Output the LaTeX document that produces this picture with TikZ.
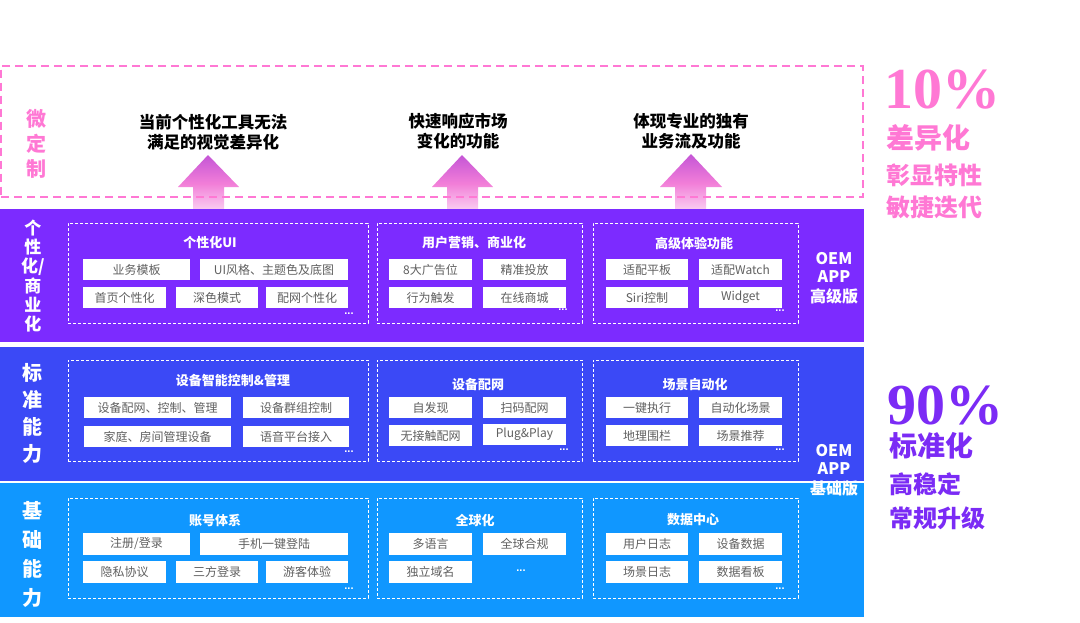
\documentclass[tikz,border=0pt]{standalone}
\usepackage{fontspec}
\setmainfont{Noto Sans CJK SC}
\newfontfamily\cjk{Noto Sans CJK SC}
\newfontfamily\serifnum{Liberation Serif}
\newfontfamily\latinsans{Liberation Sans}
\definecolor{pinkc}{HTML}{FF78D4}
\definecolor{purpband}{HTML}{7C2BFF}
\definecolor{blueband}{HTML}{3B49F6}
\definecolor{skyband}{HTML}{1097FF}
\definecolor{purptxt}{HTML}{7B2BF5}
\definecolor{itemtxt}{HTML}{606060}
\definecolor{arrtop}{HTML}{C455D6}
\definecolor{arrmid}{HTML}{F27ED8}
\definecolor{arrbot}{HTML}{FAD4F3}
\newcommand\fs[1]{\fontsize{#1}{#1}\selectfont}
\newcommand\mybox[6]{\node[itembox, minimum width={(#4-#2)*1pt}, minimum height={(#5-#3)*1pt}] (#1) at ({(#2+#4)/2},{(#3+#5)/2}) {#6};}
\newcommand\mygrp[5]{\node[grpbox, minimum width={(#4-#2)*1pt}, minimum height={(#5-#3)*1pt}] (#1) at ({(#2+#4)/2},{(#3+#5)/2}) {};}
\begin{document}
\begin{tikzpicture}[x=1pt,y=-1pt,
  band/.style={draw=none, inner sep=0pt, outer sep=0pt},
  grpbox/.style={draw=white, line width=0.8pt, dash pattern=on 3pt off 2pt, inner sep=0pt},
  itembox/.style={fill=white, draw=none, inner sep=0pt, text=itemtxt, font=\cjk\fs{12}},
  ttl/.style={text=white, font=\cjk\bfseries\fs{13}, inner sep=0pt},
  sidelbl/.style={text=white, font=\cjk\bfseries\fs{17}, align=center, inner sep=0pt},
  oemlbl/.style={text=white, font=\cjk\bfseries\fs{16}, align=center, inner sep=0pt},
  dotsl/.style={text=white, font=\latinsans\bfseries\fs{11}, inner sep=0pt, text height=0pt, text depth=0pt},
  toptxt/.style={text=black, font=\cjk\bfseries\fs{16.5}, align=center, inner sep=0pt},
  bigpct/.style={font=\serifnum\bfseries\fs{58}, inner sep=0pt, anchor=west, text height=40pt, text depth=0pt},
  rtxt/.style={font=\cjk\bfseries, inner sep=0pt, anchor=west},
  uparrow/.style={top color=arrtop, bottom color=arrbot, middle color=arrmid, draw=none}
]
\useasboundingbox (0,0) rectangle (1080,622);

% top arrows
\shade[uparrow] (208,155) -- (239,187) -- (224,187) -- (224,212) -- (193,212) -- (193,187) -- (178,187) -- cycle;
\shade[uparrow] (462,155) -- (493,187) -- (478,187) -- (478,212) -- (447,212) -- (447,187) -- (432,187) -- cycle;
\shade[uparrow] (691,154) -- (722,187) -- (706,187) -- (706,212) -- (675,212) -- (675,187) -- (660,187) -- cycle;

% pink dashed box
\node[draw=pinkc, line width=2pt, dash pattern=on 8pt off 5pt, minimum width=862pt, minimum height=131pt, inner sep=0pt] (micro) at (432,131) {};
\node[text=pinkc, font=\cjk\bfseries\fs{20}, align=center, inner sep=0pt] (microlbl) at (36,144) {微\\[5pt]定\\[5pt]制};

\node[toptxt] (t1) at (213,132) {当前个性化工具无法\\[3pt]满足的视觉差异化};
\node[toptxt] (t2) at (458,131) {快速响应市场\\[3pt]变化的功能};
\node[toptxt] (t3) at (691,131) {体现专业的独有\\[3pt]业务流及功能};

% bands
\node[band, fill=purpband, minimum width=864pt, minimum height=133pt] (b1) at (432,275.5) {};
\node[band, fill=blueband, minimum width=864pt, minimum height=134pt] (b2) at (432,414) {};
\node[band, fill=skyband, minimum width=864pt, minimum height=134pt] (b3) at (432,550) {};

% side labels
\node[sidelbl] (l1) at (33,276) {个\\[2pt]性\\[2pt]化/\\[2pt]商\\[2pt]业\\[2pt]化};
\node[sidelbl, font=\cjk\bfseries\fs{20}] (l2) at (33,413) {标\\[7pt]准\\[7pt]能\\[7pt]力};
\node[sidelbl, font=\cjk\bfseries\fs{20}] (l3) at (33,554) {基\\[9pt]础\\[9pt]能\\[9pt]力};

\node[oemlbl] (o1) at (834,278) {OEM\\[2pt]APP\\[4pt]高级版};
\node[oemlbl] (o2) at (834,470) {OEM\\[2pt]APP\\[4pt]基础版};

% ===== band 1 =====
\mygrp{g11}{68}{223}{368}{323}
\mygrp{g12}{377}{223}{582}{323}
\mygrp{g13}{593}{223}{798}{323}
\node[ttl] (h11) at (210,243) {个性化UI};
\node[ttl] (h12) at (474,243) {用户营销、商业化};
\node[ttl] (h13) at (694,243) {高级体验功能};
\mybox{a1}{83}{259}{190}{280}{业务模板}
\mybox{a2}{200}{259}{348}{280}{UI风格、主题色及底图}
\mybox{a3}{83}{287}{166}{308}{首页个性化}
\mybox{a4}{176}{287}{258}{308}{深色模式}
\mybox{a5}{266}{287}{348}{308}{配网个性化}
\mybox{a6}{389}{259}{472}{280}{8大广告位}
\mybox{a7}{483}{259}{566}{280}{精准投放}
\mybox{a8}{389}{287}{472}{308}{行为触发}
\mybox{a9}{483}{287}{566}{308}{在线商城}
\mybox{a10}{606}{259}{688}{280}{适配平板}
\mybox{a11}{699}{259}{782}{280}{适配Watch}
\mybox{a12}{606}{287}{688}{308}{Siri控制}
\mybox{a13}{699}{287}{782}{308}{Widget}
\node[dotsl] (d11) at (349,314) {...};
\node[dotsl] (d12) at (563,310) {...};
\node[dotsl] (d13) at (780,311) {...};

% ===== band 2 =====
\mygrp{g21}{68}{360}{368}{461}
\mygrp{g22}{377}{360}{582}{461}
\mygrp{g23}{593}{360}{798}{461}
\node[ttl] (h21) at (233,381) {设备智能控制\&管理};
\node[ttl] (h22) at (478,385) {设备配网};
\node[ttl] (h23) at (695,385) {场景自动化};
\mybox{c1}{84}{397}{231}{418}{设备配网、控制、管理}
\mybox{c2}{243}{397}{349}{418}{设备群组控制}
\mybox{c3}{84}{426}{231}{447}{家庭、房间管理设备}
\mybox{c4}{243}{426}{349}{447}{语音平台接入}
\mybox{c5}{389}{397}{472}{418}{自发现}
\mybox{c6}{483}{397}{566}{418}{扫码配网}
\mybox{c7}{389}{425}{472}{446}{无接触配网}
\mybox{c8}{483}{424}{566}{445}{Plug\&Play}
\mybox{c9}{606}{397}{688}{418}{一键执行}
\mybox{c10}{699}{397}{782}{418}{自动化场景}
\mybox{c11}{606}{425}{688}{446}{地理围栏}
\mybox{c12}{699}{425}{782}{446}{场景推荐}
\node[dotsl] (d21) at (349,452) {...};
\node[dotsl] (d22) at (564,450) {...};
\node[dotsl] (d23) at (780,450) {...};

% ===== band 3 =====
\mygrp{g31}{68}{498}{368}{598}
\mygrp{g32}{377}{498}{582}{598}
\mygrp{g33}{593}{498}{798}{598}
\node[ttl] (h31) at (215,520) {账号体系};
\node[ttl] (h32) at (475,520) {全球化};
\node[ttl] (h33) at (693,520) {数据中心};
\mybox{e1}{83}{533}{190}{555}{注册/登录}
\mybox{e2}{200}{533}{348}{555}{手机一键登陆}
\mybox{e3}{83}{561}{166}{583}{隐私协议}
\mybox{e4}{176}{561}{258}{583}{三方登录}
\mybox{e5}{266}{561}{348}{583}{游客体验}
\mybox{e6}{389}{533}{472}{555}{多语言}
\mybox{e7}{483}{533}{566}{555}{全球合规}
\mybox{e8}{389}{561}{472}{583}{独立域名}
\mybox{e9}{606}{533}{688}{555}{用户日志}
\mybox{e10}{699}{533}{782}{555}{设备数据}
\mybox{e11}{606}{561}{688}{583}{场景日志}
\mybox{e12}{699}{561}{782}{583}{数据看板}
\node[dotsl] (d31) at (349,589) {...};
\node[dotsl] (d32) at (521,571) {...};
\node[dotsl] (d33) at (780,589) {...};

% ===== right side =====
\node[bigpct, text=pinkc] (p10) at (884,88) {10\%};
\node[rtxt, text=pinkc, font=\cjk\bfseries\fs{28}] (r1) at (886,138) {差异化};
\node[rtxt, text=pinkc, font=\cjk\bfseries\fs{24}] (r2) at (886,175) {彰显特性};
\node[rtxt, text=pinkc, font=\cjk\bfseries\fs{24}] (r3) at (886,207) {敏捷迭代};
\node[bigpct, text=purptxt] (p90) at (887,404) {90\%};
\node[rtxt, text=purptxt, font=\cjk\bfseries\fs{28}] (s1) at (889,446) {标准化};
\node[rtxt, text=purptxt, font=\cjk\bfseries\fs{24}] (s2) at (889,484) {高稳定};
\node[rtxt, text=purptxt, font=\cjk\bfseries\fs{24}] (s3) at (889,518) {常规升级};
\end{tikzpicture}
\end{document}
